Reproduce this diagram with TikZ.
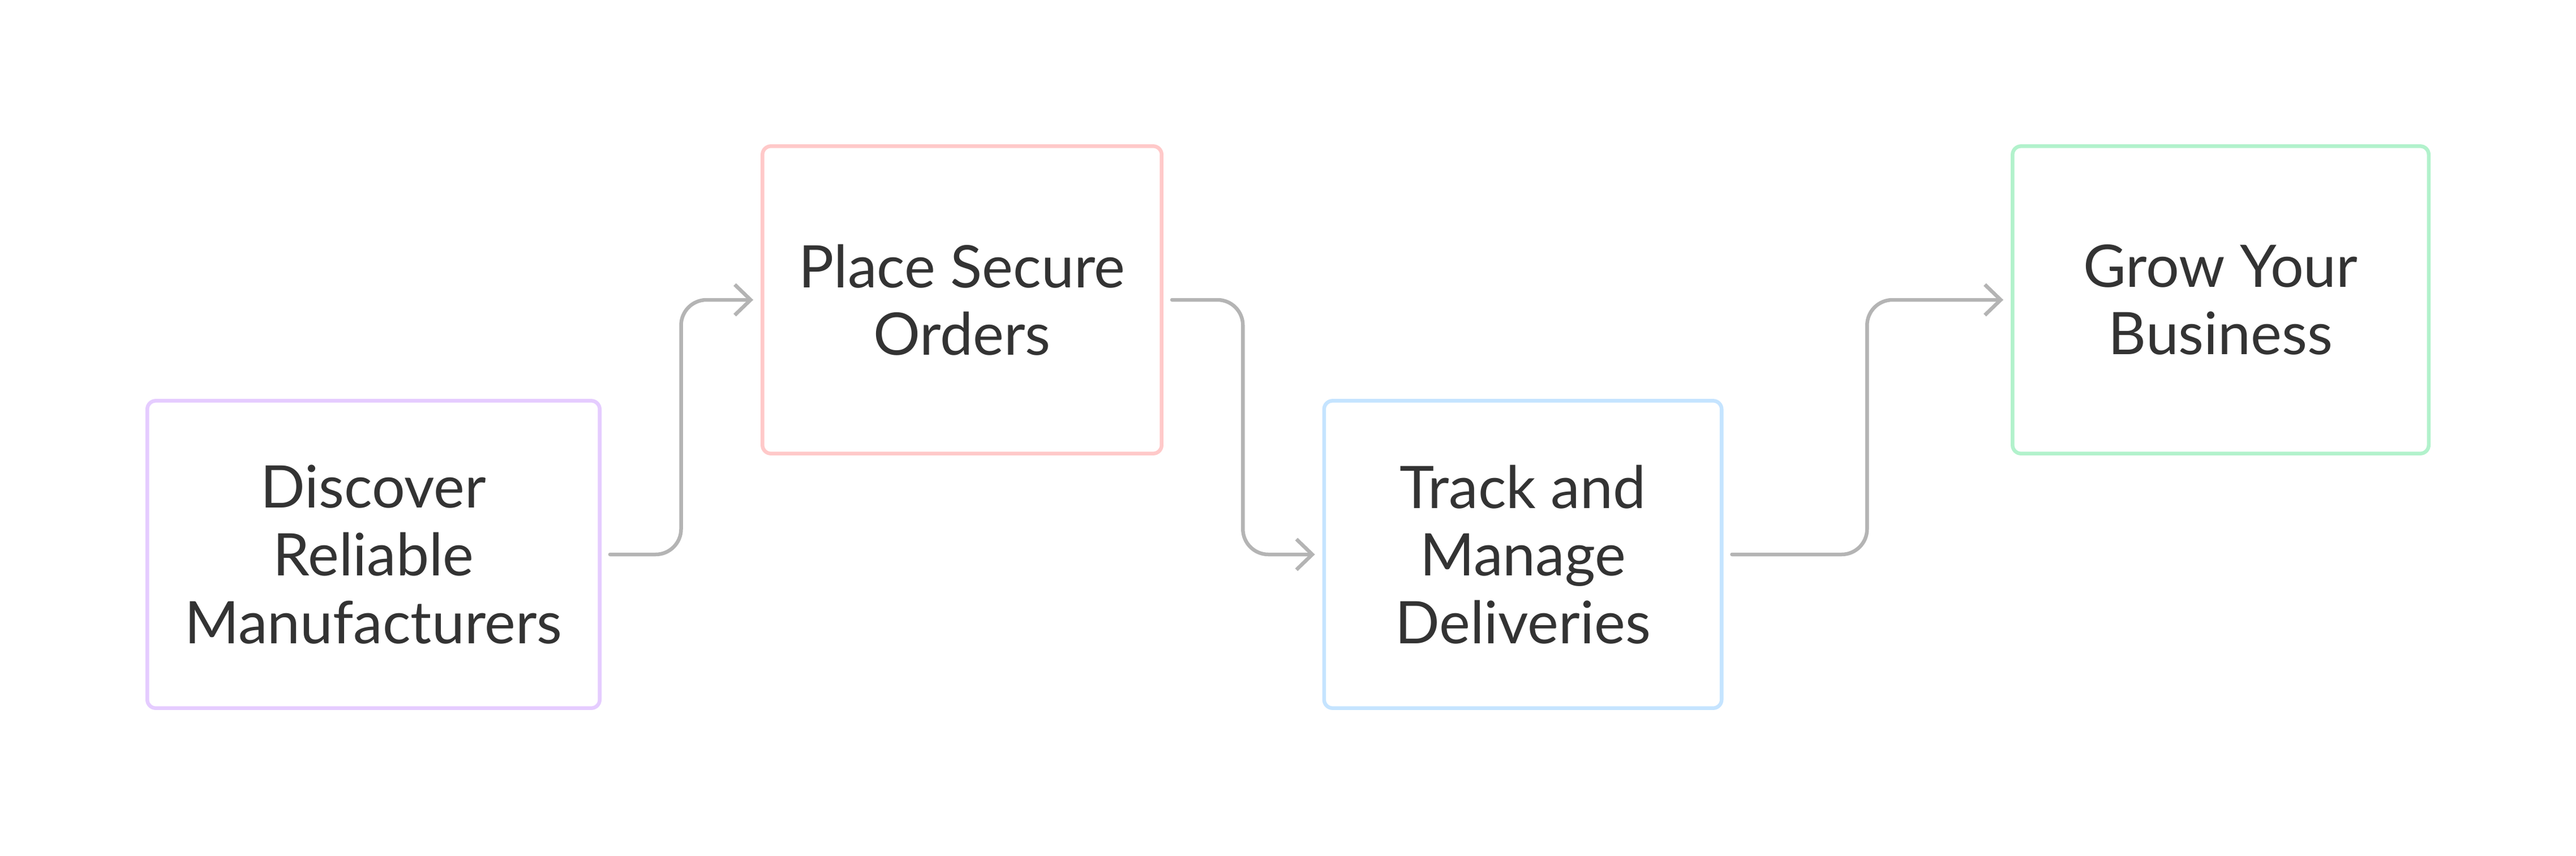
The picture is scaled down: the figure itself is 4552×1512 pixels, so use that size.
\documentclass[tikz,border=0pt]{standalone}
\usepackage{fontspec}
\setmainfont{Lato}
\usetikzlibrary{positioning}
\usetikzlibrary{calc}
\usetikzlibrary{arrows.meta}
\definecolor{StepFirst}{RGB}{229,204,255}
\definecolor{StepSecond}{RGB}{255,201,201}
\definecolor{StepThird}{RGB}{197,228,255}
\definecolor{StepFourth}{RGB}{178,242,204}
\definecolor{FlowGrey}{RGB}{180,180,180}
\definecolor{LabelInk}{RGB}{51,51,51}

\begin{document}
\begin{tikzpicture}[x=0.01cm,y=-0.01cm,
		stepbox/.style={draw,rectangle,rounded corners=0.15cm,line width=0.065cm,minimum height=5.43cm,align=center,text=LabelInk,font=\fontsize{29.5}{34}\selectfont,fill=white},
		flow/.style={draw=FlowGrey,line width=0.065cm,rounded corners=0.45cm,line cap=round,line join=round,-{Straight Barb[length=0.28cm,width=0.54cm]},shorten <=0.15cm,shorten >=0.13cm}]
			\fill[white] (0,0) rectangle (4552,1512);
			\useasboundingbox (0,0) rectangle (4552,1512);
			
			\node[stepbox,draw=StepFirst,minimum width=7.99cm] (discover) at (660,980) {Discover\\Reliable\\Manufacturers};
			\node[stepbox,draw=StepSecond,minimum width=7.05cm] (place) at (1700,530) {Place Secure\\Orders};
			\node[stepbox,draw=StepThird,minimum width=7.02cm] (track) at (2691,980) {Track and\\Manage\\Deliveries};
			\node[stepbox,draw=StepFourth,minimum width=7.35cm] (grow) at (3924,530) {Grow Your\\Business};
			
			\draw[flow] (discover.east) -| ($(discover.east)!0.5!(place.west)$) |- (place.west);
			\draw[flow] (place.east) -| ($(place.east)!0.5!(track.west)$) |- (track.west);
			\draw[flow] (track.east) -| ($(track.east)!0.5!(grow.west)$) |- (grow.west);
		\end{tikzpicture}
\end{document}
